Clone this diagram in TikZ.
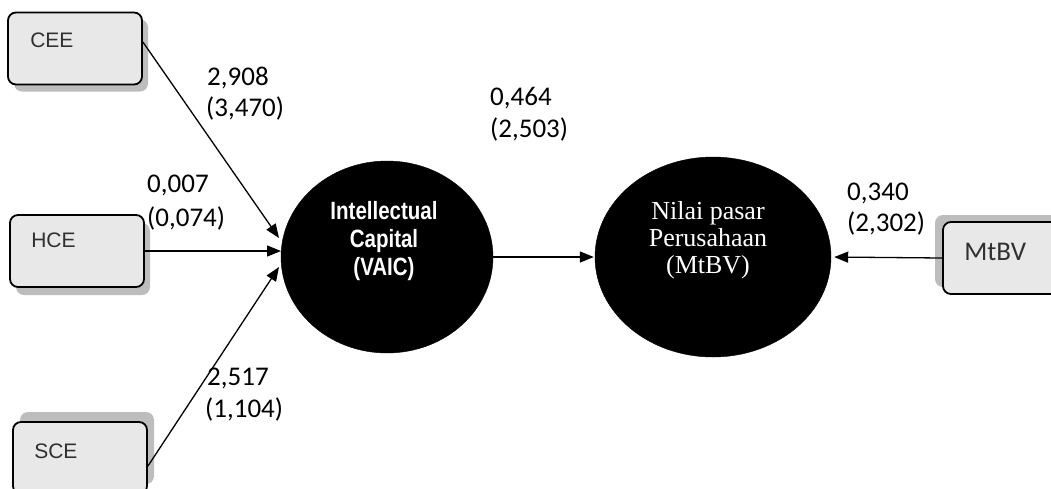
\documentclass[tikz,border=0pt]{standalone}
\usepackage{fontspec}
\setmainfont{Liberation Serif}
\newfontfamily\lblfont{Carlito}
\newfontfamily\arialfont{Liberation Sans}
\usetikzlibrary{shapes.geometric,arrows.meta,shadows,calc}
\definecolor{boxfill}{HTML}{E8E8E8}
\definecolor{shadowgray}{HTML}{BDBDBD}
\definecolor{boxtext}{HTML}{303030}
\tikzset{
  varbox/.style={draw=black, line width=1.8pt, rounded corners=8pt, fill=boxfill,
    minimum width=134pt, minimum height=72pt, inner sep=0pt},
  boxlabel/.style={anchor=base west, inner sep=0pt, text=boxtext, font=\arialfont\fontsize{21pt}{25pt}\selectfont},
  mtbvlabel/.style={anchor=base west, inner sep=0pt, text=boxtext, font=\lblfont\fontsize{27pt}{31pt}\selectfont},
  latent/.style={ellipse, fill=black, draw=black, inner sep=0pt},
  coef/.style={anchor=base west, inner sep=0pt, font=\lblfont\fontsize{27pt}{31pt}\selectfont},
  conn/.style={line width=1.3pt, -{Triangle[length=14pt,width=11pt]}},
  plain/.style={line width=1.3pt}
}
\begin{document}
\begin{tikzpicture}[x=1pt,y=-1pt]
\useasboundingbox[fill=white] (0,0) rectangle (1051,488);
\clip (0,0) rectangle (1051,488);
% indicator boxes
\node[varbox, drop shadow={shadow xshift=6pt, shadow yshift=-7pt, fill=shadowgray, opacity=1}] (cee) at (75,48.5) {};
\node[varbox, drop shadow={shadow xshift=6pt, shadow yshift=-8pt, fill=shadowgray, opacity=1}] (hce) at (77,251) {};
\node[varbox, drop shadow={shadow xshift=7pt, shadow yshift=10pt, fill=shadowgray, opacity=1}] (sce) at (80,458) {};
\node[varbox, drop shadow={shadow xshift=-8pt, shadow yshift=7pt, fill=shadowgray, opacity=1}] (mtbvbox) at (1010,258) {};
\node[boxlabel] (ceet) at ([xshift=23pt,yshift=-36pt]cee.north west) {CEE};
\node[boxlabel] (hcet) at ([xshift=22pt,yshift=-33pt]hce.north west) {HCE};
\node[boxlabel] (scet) at ([xshift=22pt,yshift=-37pt]sce.north west) {SCE};
\node[mtbvlabel] (mtbvt) at ([xshift=22pt,yshift=-39pt]mtbvbox.north west) {MtBV};
% latent variables
\node[latent, minimum width=212pt, minimum height=192pt] (vaic) at (387,257) {};
\node[latent, minimum width=236pt, minimum height=200pt] (nilai) at (713,257) {};
\node[align=center, text=white, inner sep=0pt, transform shape, xscale=0.82,
      font=\arialfont\bfseries\fontsize{25pt}{28pt}\selectfont] (vaict) at ([xshift=-3pt,yshift=16pt]vaic.center) {Intellectual\\Capital\\(VAIC)};
\node[align=center, text=white, inner sep=0pt,
      font=\fontsize{26pt}{27pt}\selectfont] (nilait) at ([xshift=-5pt,yshift=17pt]nilai.center) {Nilai pasar\\Perusahaan\\(MtBV)};
% arrow targets on the VAIC ellipse
\coordinate (t1) at (279,238);
\coordinate (t2) at (281,251);
\coordinate (t3) at (279,267);
% connectors
\draw[conn] ([yshift=6.5pt]cee.east) -- (t1);
\draw[conn] (hce.east) -- (t2);
\draw[conn] ([yshift=-45pt]sce.north east) -- (t3);
\draw[conn, shorten >=1pt] (vaic.east) -- (nilai.west);
\draw[conn, shorten >=3pt] (mtbvbox.west) -- (nilai.east);
% coefficients
\node[coef] (c1a) at (207,85) {2,908};
\node[coef] (c1b) at (206,116) {(3,470)};
\node[coef] (c2a) at (147,192) {0,007};
\node[coef] (c2b) at (147,226) {(0,074)};
\node[coef] (c3a) at (207,385) {2,517};
\node[coef] (c3b) at (205,417) {(1,104)};
\node[coef] (c4a) at (490,105) {0,464};
\node[coef] (c4b) at (490,137) {(2,503)};
\node[coef] (c5a) at (847,200) {0,340};
\node[coef] (c5b) at (847,231) {(2,302)};
\end{tikzpicture}
\end{document}
